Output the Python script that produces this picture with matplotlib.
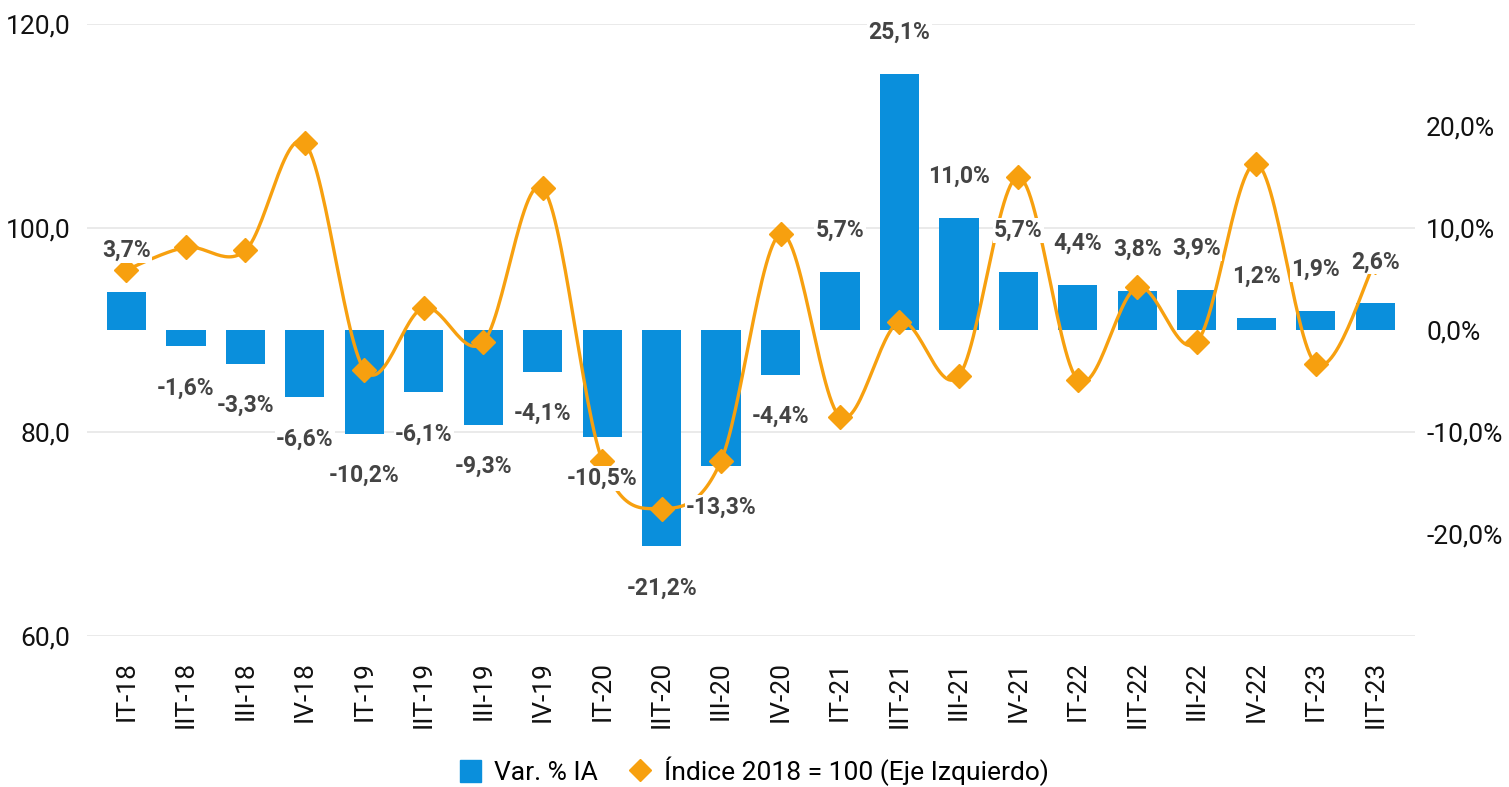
import numpy as np
import matplotlib.pyplot as plt
from matplotlib.patches import Patch
from matplotlib.lines import Line2D

plt.rcParams['font.family'] = ['Roboto', 'DejaVu Sans']

# datos
trimestres = ['IT-18', 'IIT-18', 'III-18', 'IV-18', 'IT-19', 'IIT-19', 'III-19', 'IV-19',
              'IT-20', 'IIT-20', 'III-20', 'IV-20', 'IT-21', 'IIT-21', 'III-21', 'IV-21',
              'IT-22', 'IIT-22', 'III-22', 'IV-22', 'IT-23', 'IIT-23']
var_ia = [3.7, -1.6, -3.3, -6.6, -10.2, -6.1, -9.3, -4.1, -10.5, -21.2, -13.3, -4.4,
          5.7, 25.1, 11.0, 5.7, 4.4, 3.8, 3.9, 1.2, 1.9, 2.6]
indice = [95.9, 98.1, 97.8, 108.3, 86.1, 92.2, 88.8, 103.9, 77.2, 72.5, 77.2, 99.4,
          81.5, 90.8, 85.5, 105.0, 85.1, 94.2, 88.8, 106.3, 86.7, 96.7]

azul = '#0A8FDC'
naranja = '#F7A00F'
gris = '#444444'


def suavizar(x, y, n=30, t=0.5):
    # curva suave tipo catmull-rom entre los puntos
    x = np.asarray(x, float)
    y = np.asarray(y, float)
    px = np.concatenate([[x[0]], x, [x[-1]]])
    py = np.concatenate([[y[0]], y, [y[-1]]])
    xs, ys = [], []
    for i in range(1, len(px) - 2):
        s = np.linspace(0, 1, n)
        m1x = (px[i + 1] - px[i - 1]) * t
        m2x = (px[i + 2] - px[i]) * t
        m1y = (py[i + 1] - py[i - 1]) * t
        m2y = (py[i + 2] - py[i]) * t
        h00 = 2 * s**3 - 3 * s**2 + 1
        h10 = s**3 - 2 * s**2 + s
        h01 = -2 * s**3 + 3 * s**2
        h11 = s**3 - s**2
        xs.append(h00 * px[i] + h10 * m1x + h01 * px[i + 1] + h11 * m2x)
        ys.append(h00 * py[i] + h10 * m1y + h01 * py[i + 1] + h11 * m2y)
    return np.concatenate(xs), np.concatenate(ys)


fig = plt.figure(figsize=(15.09, 7.87), dpi=100)
ax = fig.add_axes([87 / 1509, 1 - 636 / 787, 1328 / 1509, 612 / 787])
ax2 = ax.twinx()
ax.set_zorder(ax2.get_zorder() + 1)
ax.patch.set_visible(False)

x = np.arange(len(trimestres))

# barras (eje derecho)
ax2.bar(x, var_ia, width=0.66, color=azul, zorder=2)
ax2.set_ylim(-30, 30)
ax2.set_yticks([-20, -10, 0, 10, 20])
ax2.set_yticklabels(['-20,0%', '-10,0%', '0,0%', '10,0%', '20,0%'])

# linea indice (eje izquierdo)
sx, sy = suavizar(x, indice)
ax.plot(sx, sy, color=naranja, lw=2.4, zorder=3)
ax.plot(x, indice, ls='none', marker='D', ms=12, color=naranja, zorder=4)
ax.set_ylim(60, 120)
ax.set_yticks([60, 80, 100, 120])
ax.set_yticklabels(['60,0', '80,0', '100,0', '120,0'])

# rejilla detras de las barras: se dibuja en el eje de abajo
for t in ax.get_yticks():
    yy = (t - 90)  # 60..120 -> -30..30
    ax2.axhline(yy, color='#E6E6E6', lw=1.2, zorder=0)

ax.set_xlim(-0.664, 21.67)
ax.set_xticks(x)
ax.set_xticklabels(trimestres, rotation=90)

for a in (ax, ax2):
    for s in a.spines.values():
        s.set_visible(False)
    a.tick_params(length=0, labelsize=19, labelcolor='#111111')
ax.tick_params(axis='y', pad=12)
ax2.tick_params(axis='y', pad=8)
ax.tick_params(axis='x', pad=18)

# etiquetas
for xi, v in zip(x, var_ia):
    off = 30 if v >= 0 else -30
    ax.annotate(f'{v:.1f}%'.replace('.', ','), xy=(xi, v), xycoords=ax2.transData,
                xytext=(0, off), textcoords='offset points', ha='center', va='center',
                fontsize=16.5, fontweight='bold', color=gris, zorder=5,
                bbox=dict(boxstyle='square,pad=0.05', fc='white', ec='none'))

handles = [Patch(color=azul),
           Line2D([], [], ls='none', marker='D', ms=11, color=naranja)]
fig.legend(handles, ['Var. % IA', 'Índice 2018 = 100 (Eje Izquierdo)'],
           loc='center', bbox_to_anchor=(0.5, 1 - 771 / 787), ncol=2, frameon=False,
           fontsize=19, handlelength=0.8, handleheight=0.9, handletextpad=0.5,
           columnspacing=1.2)

fig.savefig('out.png', dpi=100)
